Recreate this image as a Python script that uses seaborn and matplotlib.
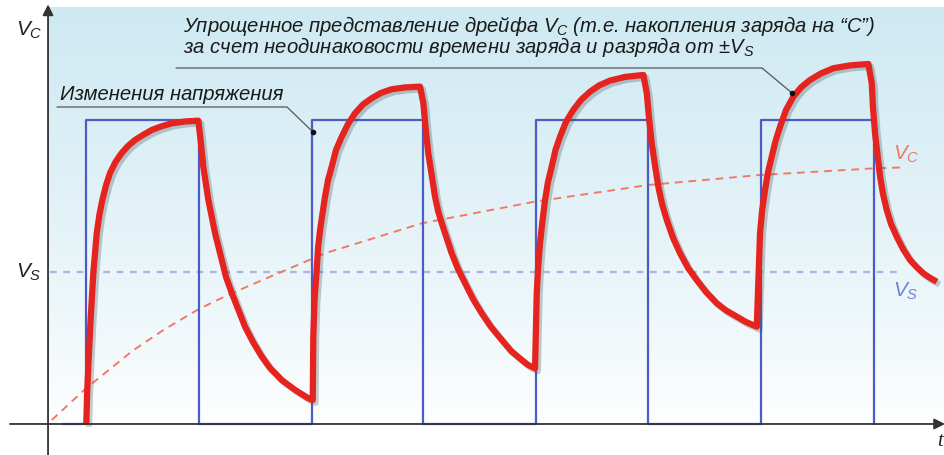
import matplotlib
matplotlib.use("Agg")
from matplotlib import pyplot as plt
import matplotlib.patheffects as pe
import matplotlib.transforms as mtrans
import numpy as np
import seaborn as sns

# ----- data (time in half-periods, voltage in units of Vs) -----
sq_start = 0.13
rise_t = [0.34, 2.35, 4.34, 6.34]
fall_t = [1.34, 3.33, 5.33, 7.34]
v_high = 2.0
vs_level = 1.0
vs_t = [0.02, 7.6]

# capacitor voltage
vc_t = [0.34, 0.347, 0.358, 0.378, 0.403, 0.433, 0.458, 0.483, 0.516, 0.551,        # charge 1
        0.600, 0.655, 0.711, 0.773, 0.844, 0.922, 1.004, 1.10, 1.218, 1.336,
        1.356, 1.38, 1.425, 1.484, 1.544, 1.582, 1.633, 1.751, 1.822, 1.90,          # discharge 1
        1.973, 2.077, 2.196, 2.314, 2.353,
        2.358, 2.369, 2.388, 2.40, 2.418, 2.462, 2.489, 2.522, 2.56, 2.611,          # charge 2
        2.667, 2.729, 2.80, 2.877, 2.96, 3.055, 3.173, 3.307,
        3.336, 3.356, 3.38, 3.44, 3.467, 3.50, 3.588, 3.644, 3.707, 3.778,           # discharge 2
        3.855, 3.938, 4.033, 4.116, 4.211, 4.267, 4.329,
        4.344, 4.356, 4.373, 4.396, 4.418, 4.444, 4.477, 4.511, 4.551, 4.604,        # charge 3
        4.669, 4.738, 4.818, 4.898, 4.996, 5.129, 5.292,
        5.322, 5.342, 5.366, 5.396, 5.425, 5.458, 5.50, 5.556, 5.618, 5.689,         # discharge 3
        5.766, 5.849, 5.944, 6.027, 6.122, 6.204, 6.30,
        6.311, 6.329, 6.347, 6.373, 6.40, 6.433, 6.467, 6.507, 6.56, 6.625,          # charge 4
        6.693, 6.773, 6.871, 6.98, 7.129, 7.292,
        7.322, 7.333, 7.351, 7.373, 7.396, 7.422, 7.455, 7.493, 7.544, 7.60,         # discharge 4
        7.662, 7.72, 7.78, 7.84, 7.90]
vc_v = [0.0, 0.191, 0.377, 0.684, 0.998, 1.257, 1.382, 1.474, 1.572, 1.651,
        1.724, 1.783, 1.829, 1.868, 1.901, 1.934, 1.957, 1.978, 1.990, 1.995,
        1.868, 1.693, 1.474, 1.257, 1.079, 0.967, 0.862, 0.640, 0.539, 0.443,
        0.368, 0.289, 0.224, 0.169, 0.158,
        0.574, 0.816, 1.013, 1.158, 1.276, 1.495, 1.605, 1.693, 1.803, 1.890,
        1.974, 2.044, 2.102, 2.143, 2.178, 2.202, 2.214, 2.219,
        2.110, 1.947, 1.781, 1.495, 1.401, 1.320, 1.123, 1.020, 0.926, 0.822,
        0.728, 0.638, 0.553, 0.480, 0.421, 0.388, 0.366,
        0.860, 1.026, 1.189, 1.342, 1.474, 1.592, 1.693, 1.803, 1.890, 1.987,
        2.066, 2.132, 2.186, 2.227, 2.259, 2.283, 2.296,
        2.176, 2.013, 1.847, 1.697, 1.561, 1.447, 1.342, 1.224, 1.123, 1.026,
        0.947, 0.868, 0.794, 0.747, 0.706, 0.671, 0.640,
        0.882, 1.255, 1.401, 1.539, 1.658, 1.759, 1.862, 1.956, 2.066, 2.153,
        2.214, 2.263, 2.306, 2.340, 2.359, 2.368,
        2.241, 2.079, 1.913, 1.770, 1.627, 1.513, 1.408, 1.316, 1.232, 1.151,
        1.079, 1.033, 0.991, 0.961, 0.936]

# simplified drift of Vc
avg_t = [0.033, 0.338, 0.758, 1.04, 1.345, 1.618, 1.90, 2.462, 3.322, 4.329, 5.336, 6.329, 7.351, 7.618]
avg_v = [0.026, 0.235, 0.485, 0.625, 0.758, 0.855, 0.945, 1.123, 1.320, 1.463, 1.572, 1.638, 1.682, 1.688]

# square wave from the edge times
sq_t = [sq_start]
sq_v = [0.0]
for r, f in zip(rise_t, fall_t):
    sq_t += [r, r, f, f]
    sq_v += [0.0, v_high, v_high, 0.0]

sns.set_style("white")
plt.rcParams["font.family"] = ["Liberation Sans", "DejaVu Sans"]
plt.rcParams["mathtext.fontset"] = "custom"
plt.rcParams["mathtext.it"] = "Liberation Sans:italic"
plt.rcParams["mathtext.rm"] = "Liberation Sans"

W, H = 945, 455
fig = plt.figure(figsize=(W / 100, H / 100), dpi=100)
ax = fig.add_axes([0, 0, 1, 1])
ax.set_xlim(-0.427, 7.973)
ax.set_ylim(-0.204, 2.789)
ax.axis("off")

# pixel transform (origin top-left) for labels
pix = mtrans.Affine2D().scale(1 / W, -1 / H).translate(0, 1) + fig.transFigure

# background gradient panel
f = np.linspace(0, 1, 256).reshape(-1, 1) ** 0.8
top = np.array([0.81, 0.915, 0.95])
grad = (1 - f[..., None]) * np.ones(3) + f[..., None] * top
ax.imshow(grad, extent=[0, 7.973, 0, 2.737], origin="lower", aspect="auto", zorder=0)

# Vs level
sns.lineplot(x=vs_t, y=[vs_level, vs_level], ax=ax, color="#aab4e2", lw=1.6, zorder=2)
ax.lines[-1].set_dashes((3, 3))

# drift (dashed red)
sns.lineplot(x=avg_t, y=avg_v, ax=ax, sort=False, estimator=None, color="#f07a68", lw=1.4, zorder=2)
ax.lines[-1].set_dashes((4, 3))

# square wave
sns.lineplot(x=sq_t, y=sq_v, ax=ax, sort=False, estimator=None, color="#4c5cc6", lw=1.6, zorder=3)

# capacitor voltage
sns.lineplot(x=vc_t, y=vc_v, ax=ax, sort=False, estimator=None, color="#e5231f", lw=4.5, zorder=4)
ax.lines[-1].set_path_effects([pe.SimpleLineShadow(offset=(2, -2), shadow_color="#3a4a4a", alpha=0.28),
                               pe.Normal()])
ax.lines[-1].set_solid_joinstyle("round")
ax.lines[-1].set_solid_capstyle("butt")

# axes with arrows
ax.annotate("", xy=(0, 2.76), xytext=(0, -0.204),
            arrowprops=dict(arrowstyle="-|>", color="#333333", lw=1.3, mutation_scale=16,
                            shrinkA=0, shrinkB=0), zorder=5)
ax.annotate("", xy=(7.973, 0), xytext=(-0.338, 0),
            arrowprops=dict(arrowstyle="-|>", color="#333333", lw=1.3, mutation_scale=16,
                            shrinkA=0, shrinkB=0), zorder=5)

# labels
ax.text(16, 30, r"$V_C$", transform=pix, fontsize=15, ha="left", va="center", color="#222222")
ax.text(16, 272, r"$V_S$", transform=pix, fontsize=15, ha="left", va="center", color="#222222")
ax.text(937, 441, "t", transform=pix, fontsize=15, ha="left", va="center", color="#222222",
        family="Liberation Serif", style="italic")
ax.text(893, 154, r"$V_C$", transform=pix, fontsize=15, ha="left", va="center", color="#f07a68")
ax.text(893, 291, r"$V_S$", transform=pix, fontsize=15, ha="left", va="center", color="#7282d6")

# annotations
ax.text(183, 53, "Упрощенное представление дрейфа $V_C$ (т.е. накопления заряда на “C”)\n"
        "за счет неодинаковости времени заряда и разряда от ±$V_S$",
        transform=pix, fontsize=14.6, style="italic", color="#1a1a1a", va="baseline",
        linespacing=0.85)
ax.text(60, 100, "Изменения напряжения",
        transform=pix, fontsize=14.6, style="italic", color="#1a1a1a", va="baseline")

ax.plot([176, 762, 792], [68, 68, 93], transform=pix, color="#555555", lw=0.9, zorder=6)
ax.plot([792], [93], transform=pix, marker="o", ms=3, color="#111111", zorder=6)
ax.plot([57, 287, 313], [107, 107, 132], transform=pix, color="#555555", lw=0.9, zorder=6)
ax.plot([313], [132], transform=pix, marker="o", ms=3, color="#111111", zorder=6)

fig.savefig("out.png", dpi=100)
